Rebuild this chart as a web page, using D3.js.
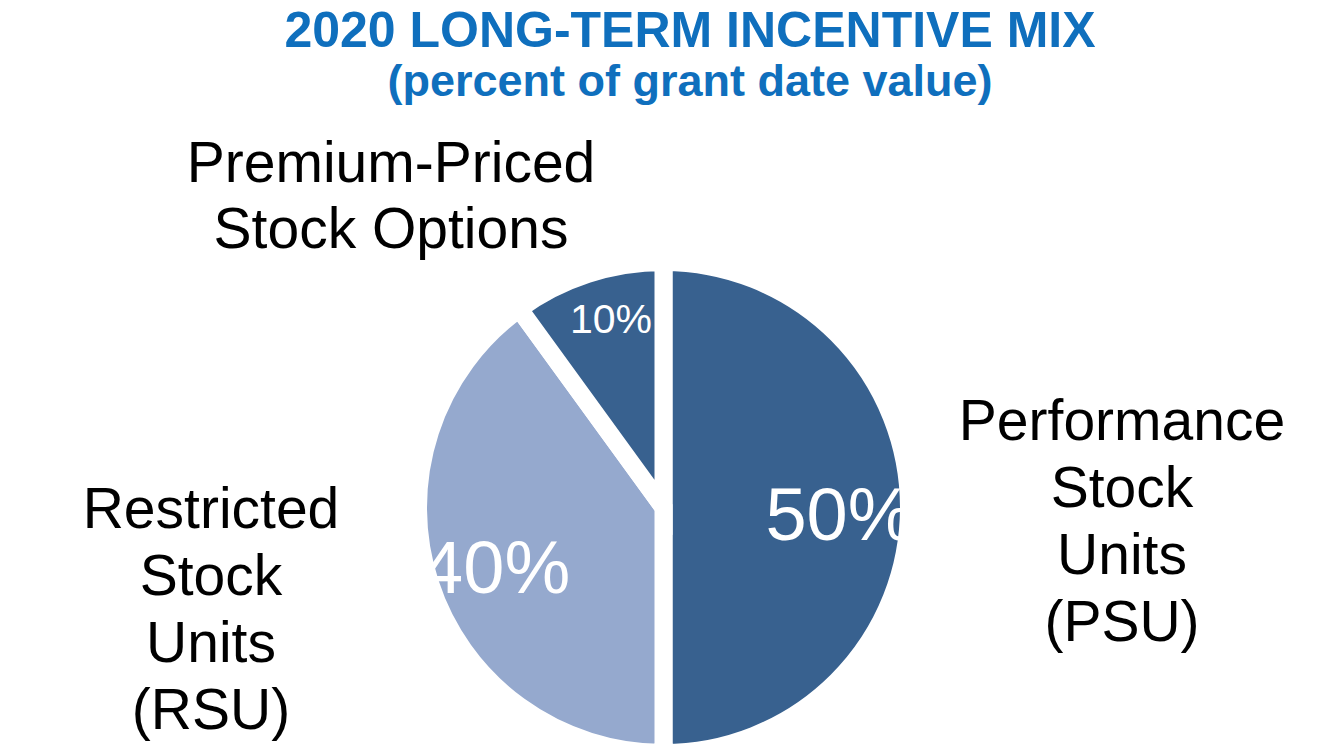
<!DOCTYPE html>
<html>
<head>
<meta charset="utf-8">
<script src="https://cdn.jsdelivr.net/npm/d3@7"></script>
<style>
  body { margin: 0; background: #fff; }
  svg { display: block; font-family: "Liberation Sans", Arial, sans-serif; }
</style>
</head>
<body>
<svg class="chart"></svg>
<script>
// chart data
var categories = ["Performance Stock Units (PSU)", "Restricted Stock Units (RSU)", "Premium-Priced Stock Options"];
var values = [50, 40, 10];
var valueLabels = ["50%", "40%", "10%"];
var sliceColors = ["#38618f", "#95a9ce", "#38618f"];

// category labels, one array of lines each
var categoryLines = [
    ["Performance", "Stock", "Units", "(PSU)"],
    ["Restricted", "Stock", "Units", "(RSU)"],
    ["Premium-Priced", "Stock Options"]
];

var titleText = "2020 LONG-TERM INCENTIVE MIX";
var subtitleText = "(percent of grant date value)";

// canvas size
var canvasWidth = 1344;
var canvasHeight = 756;

var cx = 663.5, cy = 507.5;
var radius = 245.5;
var gap = 18;

var canvas = d3.select(".chart")
    .attr("width", canvasWidth)
    .attr("height", canvasHeight);

// titles
canvas.append("text")
    .attr("x", 690)
    .attr("y", 47)
    .attr("text-anchor", "middle")
    .style("font-weight", "bold")
    .style("font-size", "50px")
    .style("fill", "#0f6fbd")
    .text(titleText);

canvas.append("text")
    .attr("x", 690)
    .attr("y", 96)
    .attr("text-anchor", "middle")
    .style("font-weight", "bold")
    .style("font-size", "45px")
    .style("fill", "#0f6fbd")
    .text(subtitleText);

// pie
var data = categories.map(function (c, i) {
    return { name: c, value: values[i], label: valueLabels[i], color: sliceColors[i], lines: categoryLines[i] };
});

var pie = d3.pie()
    .sort(null)
    .value(function (d) { return d.value; });

var arc = d3.arc()
    .innerRadius(0)
    .outerRadius(radius);

var arcs = pie(data);

var g = canvas.append("g")
    .attr("transform", "translate(" + cx + "," + cy + ")");

g.selectAll("path")
    .data(arcs)
    .enter().append("path")
    .attr("d", arc)
    .attr("fill", function (d) { return d.data.color; })
    .attr("stroke", "#fff")
    .attr("stroke-width", gap)
    .attr("stroke-linejoin", "miter");

// value labels sit near the slice bisector
var labelRadius = [176, 176, 196];
var labelSize = [74, 74, 41];
var labelShift = [[0, 6], [0, 4], [8, -3]];

g.selectAll("text.value")
    .data(arcs)
    .enter().append("text")
    .attr("class", "value")
    .attr("transform", function (d, i) {
        var p = d3.arc().innerRadius(labelRadius[i]).outerRadius(labelRadius[i]).centroid(d);
        return "translate(" + (p[0] + labelShift[i][0]) + "," + (p[1] + labelShift[i][1]) + ")";
    })
    .attr("text-anchor", "middle")
    .attr("dy", "0.36em")
    .style("font-size", function (d, i) { return labelSize[i] + "px"; })
    .style("fill", "#fff")
    .text(function (d) { return d.data.label; });

// category labels
var catPos = [[1122, 440], [211, 528], [391, 182]];
var lineHeight = [67, 67, 66];

data.forEach(function (d, i) {
    var t = canvas.append("text")
        .attr("text-anchor", "middle")
        .style("font-size", "57px")
        .style("fill", "#000");
    d.lines.forEach(function (line, j) {
        t.append("tspan")
            .attr("x", catPos[i][0])
            .attr("y", catPos[i][1] + j * lineHeight[i])
            .text(line);
    });
});
</script>
</body>
</html>
